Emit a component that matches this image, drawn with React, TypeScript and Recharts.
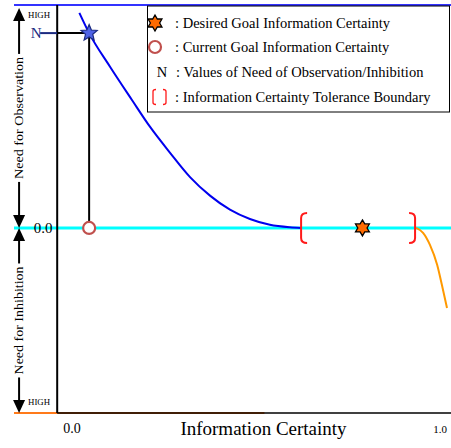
import React from 'react';
import { ComposedChart, Line, Scatter, XAxis, YAxis, ReferenceLine, ReferenceDot } from 'recharts';

// need curve (observation side)
const blueX = [0.02, 0.047, 0.105, 0.165, 0.215, 0.27, 0.325, 0.38, 0.435, 0.49, 0.545, 0.6, 0.631];
const blueY = [0.965, 0.874, 0.722, 0.574, 0.453, 0.337, 0.228, 0.145, 0.082, 0.04, 0.014, 0.003, 0];
// need curve (inhibition side)
const orangeX = [0.948, 0.967, 0.986, 1.006, 1.019, 1.033];
const orangeY = [0, -0.022, -0.076, -0.166, -0.256, -0.359];

const xTicks = [0, 1];
const xTickLabels = ['0.0', '1.0'];
const currentGoal = 0.047;
const desiredGoal = 0.8;
const toleranceBounds = [0.631, 0.945];
const needValue = 0.874;
const legendLabels = [
  ': Desired Goal Information Certainty',
  ': Current Goal Information Certainty',
  ': Values of Need of Observation/Inhibition',
  ': Information Certainty Tolerance Boundary',
];

const xDomain = [-0.16, 1.044];
const yDomain = [-0.83, 1];
const arrowX = -0.146;
const axisX = -0.041;
const highLevel = 0.987;

const blueData = blueX.map((x, i) => ({ x, y: blueY[i] }));
const orangeData = orangeX.map((x, i) => ({ x, y: orangeY[i] }));

const starPoints = (cx: number, cy: number, n: number, r: number, ratio: number) => {
  const pts: string[] = [];
  for (let k = 0; k < n * 2; k++) {
    const a = (-90 + (k * 180) / n) * (Math.PI / 180);
    const rr = k % 2 === 0 ? r : r * ratio;
    pts.push(`${cx + rr * Math.cos(a)},${cy + rr * Math.sin(a)}`);
  }
  return pts.join(' ');
};

const Hexagram = ({ cx, cy, r = 8 }: any) => (
  <polygon points={starPoints(cx, cy, 6, r, 0.58)} fill="#ff6a00" stroke="#000" strokeWidth={1.3} />
);

const bracketPath = (x: number, y: number, dir: number, h: number, arm = 6, rad = 5) =>
  `M${x + dir * arm},${y - h} Q${x},${y - h} ${x},${y - h + rad} L${x},${y + h - rad} Q${x},${y + h} ${x + dir * arm},${y + h}`;

const arrowShape = (text: string, textLen: number, highOnTop: boolean) => (p: any) => {
  const x = p.x1;
  const top = Math.min(p.y1, p.y2);
  const bottom = Math.max(p.y1, p.y2);
  const mid = (top + bottom) / 2;
  return (
    <g>
      <line x1={x} y1={top + 6} x2={x} y2={bottom - 6} stroke="#000" strokeWidth={2} />
      <polygon points={`${x},${top} ${x - 6},${top + 13} ${x + 6},${top + 13}`} fill="#000" />
      <polygon points={`${x},${bottom} ${x - 6},${bottom - 13} ${x + 6},${bottom - 13}`} fill="#000" />
      <rect x={x - 7} y={mid - textLen / 2 - 3} width={14} height={textLen + 6} fill="#fff" />
      <text
        x={x}
        y={mid}
        transform={`rotate(-90 ${x} ${mid})`}
        textAnchor="middle"
        dominantBaseline="central"
        fontSize={12}
        textLength={textLen}
        lengthAdjust="spacingAndGlyphs"
      >
        {text}
      </text>
      <text x={x + 9} y={highOnTop ? top + 10 : bottom - 8} fontSize={8} textLength={22} lengthAdjust="spacingAndGlyphs">
        HIGH
      </text>
    </g>
  );
};

const XTick = (p: any) => {
  const i = xTicks.indexOf(p.payload.value);
  const big = i === 0;
  return (
    <text x={p.x + (big ? 0 : 5)} y={p.y + 12} textAnchor="middle" fontSize={big ? 14 : 11} fill="#000">
      {xTickLabels[i]}
    </text>
  );
};

const Legend = () => (
  <svg width={451} height={448} style={{ position: 'absolute', left: 0, top: 0, pointerEvents: 'none' }}>
    <rect x={147.5} y={6} width={302} height={106} fill="#fff" stroke="#000" strokeWidth={1} />
    <Hexagram cx={155} cy={23} r={8} />
    <circle cx={155} cy={47} r={6} fill="#fff" stroke="#c0504d" strokeWidth={2.2} />
    <text x={162} y={77} textAnchor="middle" fontSize={14.5}>N</text>
    <path d={bracketPath(153, 97, 1, 7.5, 3, 2)} fill="none" stroke="#ff1a1a" strokeWidth={1.3} />
    <path d={bracketPath(166, 97, -1, 7.5, 3, 2)} fill="none" stroke="#ff1a1a" strokeWidth={1.3} />
    {legendLabels.map((t, i) => (
      <text key={t} x={i === 2 ? 176 : 175} y={28 + [0, 24, 49, 74][i]} fontSize={14.5} fill="#000">
        {t}
      </text>
    ))}
  </svg>
);

export default function App() {
  return (
    <div
      style={{
        position: 'absolute',
        left: 0,
        top: 0,
        width: 451,
        height: 448,
        background: '#fff',
        fontFamily: '"Liberation Serif", "Times New Roman", serif',
      }}
    >
      <ComposedChart width={451} height={448} margin={{ top: 5, right: 0, left: 14, bottom: 5 }}>
        <XAxis
          type="number"
          dataKey="x"
          domain={xDomain}
          allowDataOverflow
          ticks={xTicks}
          axisLine={false}
          tickLine={false}
          height={30}
          tick={XTick}
          label={{
            content: (p: any) => (
              <text
                x={p.viewBox.x + p.viewBox.width / 2 + 31}
                y={p.viewBox.y + 22}
                textAnchor="middle"
                fontSize={19}
                fill="#000"
              >
                Information Certainty
              </text>
            ),
          }}
        />
        <YAxis type="number" dataKey="y" domain={yDomain} allowDataOverflow hide />

        <ReferenceLine y={0} stroke="#00ffff" strokeWidth={3} />
        <ReferenceLine y={yDomain[1]} stroke="#3333ff" strokeWidth={2} />
        <ReferenceLine
          segment={[{ x: xDomain[0], y: yDomain[0] }, { x: 0.53, y: yDomain[0] }]}
          stroke="#ff7a1a"
          strokeWidth={2}
        />
        <ReferenceLine
          segment={[{ x: axisX, y: yDomain[0] }, { x: xDomain[1], y: yDomain[0] }]}
          stroke="#000"
          strokeWidth={1.5}
        />
        <ReferenceLine x={axisX} stroke="#000" strokeWidth={2} />
        <ReferenceLine
          segment={[{ x: arrowX, y: highLevel }, { x: arrowX, y: 0 }]}
          shape={arrowShape('Need for Observation', 122, true)}
        />
        <ReferenceLine
          segment={[{ x: arrowX, y: 0 }, { x: arrowX, y: yDomain[0] }]}
          shape={arrowShape('Need for Inhibition', 108, false)}
        />
        <ReferenceLine
          segment={[{ x: -0.088, y: needValue }, { x: axisX, y: needValue }]}
          stroke="#1b2a80"
          strokeWidth={2}
        />
        <ReferenceLine
          segment={[{ x: axisX, y: needValue }, { x: currentGoal, y: needValue }]}
          stroke="#000"
          strokeWidth={2}
        />
        <ReferenceLine
          segment={[{ x: currentGoal, y: needValue }, { x: currentGoal, y: 0 }]}
          shape={(p: any) => (
            <line x1={p.x1} y1={Math.min(p.y1, p.y2)} x2={p.x2} y2={Math.max(p.y1, p.y2) - 6} stroke="#000" strokeWidth={2} />
          )}
        />
        <ReferenceDot
          x={-0.099}
          y={needValue}
          shape={(p: any) => (
            <text x={p.cx} y={p.cy} textAnchor="middle" dominantBaseline="central" fontSize={15} fill="#1b2a80">
              N
            </text>
          )}
        />
        <ReferenceDot
          x={-0.08}
          y={0}
          shape={(p: any) => (
            <text x={p.cx} y={p.cy} textAnchor="middle" dominantBaseline="central" fontSize={15} fill="#000">
              0.0
            </text>
          )}
        />

        <Line
          data={blueData}
          dataKey="y"
          type="monotone"
          stroke="#0000ee"
          strokeWidth={2}
          dot={false}
          isAnimationActive={false}
        />
        <Line
          data={orangeData}
          dataKey="y"
          type="monotone"
          stroke="#ff9900"
          strokeWidth={2}
          dot={false}
          isAnimationActive={false}
        />
        <Scatter
          data={[{ x: toleranceBounds[0], y: 0 }]}
          dataKey="y"
          isAnimationActive={false}
          shape={(p: any) => <path d={bracketPath(p.cx, p.cy, 1, 15)} fill="none" stroke="#ff1a1a" strokeWidth={2} />}
        />
        <Scatter
          data={[{ x: toleranceBounds[1], y: 0 }]}
          dataKey="y"
          isAnimationActive={false}
          shape={(p: any) => <path d={bracketPath(p.cx, p.cy, -1, 15)} fill="none" stroke="#ff1a1a" strokeWidth={2} />}
        />
        <Scatter
          data={[{ x: desiredGoal, y: 0 }]}
          dataKey="y"
          isAnimationActive={false}
          shape={(p: any) => <Hexagram cx={p.cx} cy={p.cy} r={8} />}
        />
        <Scatter
          data={[{ x: currentGoal, y: 0 }]}
          dataKey="y"
          isAnimationActive={false}
          shape={(p: any) => <circle cx={p.cx} cy={p.cy} r={6} fill="#fff" stroke="#c0504d" strokeWidth={2.2} />}
        />
        <Scatter
          data={[{ x: currentGoal, y: needValue }]}
          dataKey="y"
          isAnimationActive={false}
          shape={(p: any) => (
            <polygon points={starPoints(p.cx, p.cy, 5, 8.5, 0.45)} fill="#4f63e6" stroke="#1b2a80" strokeWidth={1.2} />
          )}
        />
      </ComposedChart>
      <Legend />
    </div>
  );
}
